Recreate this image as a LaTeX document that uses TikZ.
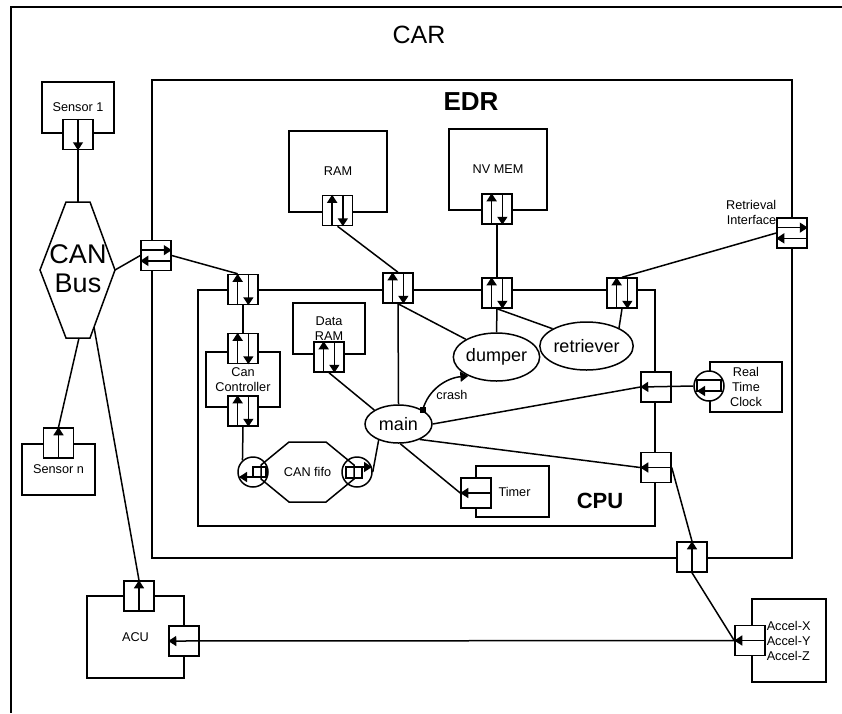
\documentclass[tikz,border=0pt]{standalone}
\usepackage{fontspec}
\setmainfont{Liberation Sans}
\usetikzlibrary{arrows.meta,calc,shapes.geometric}
\newcommand\lblfont{\fontsize{12.7}{15}\selectfont}
\newcommand\pbiV[1]{%
 \draw[tip] ($(#1.south west)!.33!(#1.south east)$) -- ($(#1.north west)!.33!(#1.north east)$);
 \draw[tip] ($(#1.north west)!.67!(#1.north east)$) -- ($(#1.south west)!.67!(#1.south east)$);}
\newcommand\pbiH[1]{%
 \draw[tip] ($(#1.north west)!.33!(#1.south west)$) -- ($(#1.north east)!.33!(#1.south east)$);
 \draw[tip] ($(#1.north east)!.67!(#1.south east)$) -- ($(#1.north west)!.67!(#1.south west)$);}
\newcommand\portIn[3]{\draw[tip] (#1.#2) -- (#1.#3);}
\tikzset{
 blk/.style={draw, fill=white, inner sep=0pt, align=center, font=\lblfont},
 frame/.style={draw, inner sep=0pt},
 port/.style={draw, fill=white, minimum width=30pt, minimum height=30pt, inner sep=0pt},
 tip/.style={-{Triangle[length=8pt,width=10pt]}},
 lbl/.style={font=\lblfont, align=center, inner sep=0pt},
 proc/.style={draw, ellipse, fill=white, inner sep=0pt},
 glyph/.style={draw, circle, minimum size=30pt, inner sep=0pt},
}
\begin{document}
\begin{tikzpicture}[x=1pt,y=-1pt,line width=1.5pt]
\useasboundingbox (0,0) rectangle (842,713);
% CAR frame (clipped on the right and bottom)
\coordinate (carTL) at (11,7);
\coordinate (carTR) at (842,7);
\coordinate (carBL) at (11,713);
\draw (carTR) -- (carTL) -- (carBL);
\node[inner sep=0pt, font=\fontsize{25}{28}\selectfont] (carlbl) at (419,35) {CAR};
% EDR and CPU frames
\node[frame, minimum width=640pt, minimum height=478pt] (edr) at (472,319) {};
\node[inner sep=0pt, font=\fontsize{26}{30}\selectfont\bfseries] (edrlbl) at (471,102) {EDR};
\node[frame, minimum width=457pt, minimum height=236pt] (cpu) at (426.5,408) {};
\node[inner sep=0pt, font=\fontsize{22}{26}\selectfont\bfseries] (cpulbl) at (600,501) {CPU};
% blocks
\node[blk, minimum width=72pt, minimum height=51pt] (s1) at (78,107.5) {Sensor 1};
\node[blk, minimum width=73pt, minimum height=51pt] (sn) at (58.5,469.5) {Sensor n};
\node[blk, minimum width=97pt, minimum height=82pt] (acu) at (135.5,637) {ACU};
\node[blk, minimum width=74pt, minimum height=83pt] (acc) at (789,640.5) {};
\node[lbl, anchor=west, align=left] (acclbl) at (766,641) {Accel-X\\Accel-Y\\Accel-Z};
\node[blk, minimum width=98pt, minimum height=81pt] (ram) at (338,171.5) {RAM};
\node[blk, minimum width=98pt, minimum height=81pt] (nv) at (498,169.5) {NV MEM};
\node[blk, minimum width=74pt, minimum height=55pt] (cc) at (243,379.5) {Can\\Controller};
\node[blk, minimum width=72pt, minimum height=51pt] (dram) at (329,328.5) {Data\\RAM};
\node[blk, minimum width=73pt, minimum height=51pt] (tim) at (512.5,491.5) {\hspace*{4pt}Timer};
\node[blk, minimum width=72pt, minimum height=50pt] (rtc) at (746,387) {Real\\Time\\Clock};
\node[lbl, anchor=east, align=right] (retlbl) at (777,212.5) {Retrieval\\Interface};
% CAN bus hexagon
\coordinate (hA) at (66,202);
\coordinate (hB) at (90,202);
\coordinate (hC) at (115,270);
\coordinate (hD) at (90,338);
\coordinate (hE) at (66,338);
\coordinate (hF) at (40,270);
\draw[fill=white] (hA) -- (hB) -- (hC) -- (hD) -- (hE) -- (hF) -- cycle;
\node[inner sep=0pt, align=center, font=\fontsize{27}{29}\selectfont] (buslbl) at (78,269) {CAN\\Bus};
\coordinate (hTop) at (78,202);
\coordinate (hSn) at (79,338);
\coordinate (hAcu) at (94,327);
% CAN fifo octagon
\coordinate (o1) at (289,442);
\coordinate (o2) at (326,442);
\coordinate (o3) at (354,465);
\coordinate (o4) at (354,479);
\coordinate (o5) at (326,502);
\coordinate (o6) at (289,502);
\coordinate (o7) at (261,479);
\coordinate (o8) at (261,465);
\draw (o1) -- (o2) -- (o3) -- (o4) -- (o5) -- (o6) -- (o7) -- (o8) -- cycle;
\node[lbl] (fifolbl) at (307.5,472) {CAN fifo};
\node[glyph] (fifoL) at (253,472) {};
\node[glyph] (fifoR) at (357,472) {};
\draw (253,467) rectangle (266,477);
\draw[tip] (266,477) -- (239,477);
\draw (346,467) rectangle (362,478);
\draw[tip] (346,467) -- (372,467);
% processes
\node[proc, minimum width=67pt, minimum height=38pt, font=\fontsize{18}{20}\selectfont] (main) at (398.5,424) {main};
\node[proc, minimum width=81pt, minimum height=48pt, font=\fontsize{18}{20}\selectfont] (dump) at (496.5,357) {dumper};
\node[proc, minimum width=81pt, minimum height=48pt, font=\fontsize{18}{20}\selectfont] (retr) at (586.5,346) {retriever};
% RTC glyph
\node[glyph, fill=white] (rtcC) at (709,386) {};
\draw (697,380) rectangle (721,391);
\draw[tip] (721,391) -- (697,391);
% ports
\node[port] (s1P) at (78,134.5) {};
\node[port] (busP) at (156,255.5) {};
\node[port] (cpuP1) at (243,289.5) {};
\node[port] (cpuP2) at (398,288) {};
\node[port] (cpuP3) at (497,293) {};
\node[port] (cpuP4) at (622,293) {};
\node[port] (ramP) at (337.5,210.5) {};
\node[port] (nvP) at (497,209) {};
\node[port] (retP) at (792,233) {};
\node[port] (ccP1) at (243,348.5) {};
\node[port] (ccP2) at (243,411) {};
\node[port] (dramP) at (329,357) {};
\node[port] (rtcP) at (656,387) {};
\node[port] (accP) at (656,467.5) {};
\node[port] (edrP) at (692,557) {};
\node[port] (timP) at (476,493) {};
\node[port] (acP) at (750,640.5) {};
\node[port] (acuP) at (184,641) {};
\node[port] (acuTP) at (139,596) {};
\node[port] (snP) at (58.5,443) {};
\portIn{s1P}{north}{south}
\pbiH{busP}
\pbiV{cpuP1}
\pbiV{cpuP2}
\pbiV{cpuP3}
\pbiV{cpuP4}
\pbiV{ramP}
\pbiV{nvP}
\pbiH{retP}
\pbiV{ccP1}
\pbiV{ccP2}
\pbiV{dramP}
\portIn{accP}{east}{west}
\portIn{edrP}{south}{north}
\portIn{timP}{east}{west}
\portIn{acP}{east}{west}
\portIn{acuTP}{south}{north}
\portIn{snP}{south}{north}
% connectors
\draw (s1P.south) -- (hTop);
\draw (hC) -- (busP.west);
\draw (busP.east) -- ($(cpuP1.north west)!.33!(cpuP1.north east)$);
\draw (hSn) -- (snP.north);
\draw (hAcu) -- (acuTP.north);
\draw (ramP.south) -- (cpuP2.north);
\draw (nvP.south) -- (cpuP3.north);
\draw (retP.west) -- (cpuP4.north);
\draw (cpuP1.south) -- (ccP1.north);
\draw (ccP2.south) -- (fifoL.132);
\draw (cpuP2.south) -- (main.north);
\draw (cpuP2.south) -- (dump.150);
\draw (cpuP3.south) -- (dump.north);
\draw (cpuP3.south) -- (retr.153);
\draw (cpuP4.south) -- (retr.29);
\draw (dramP.south) -- (main.150);
\draw (main.east) -- (rtcP.west);
\draw[tip] (rtcC.west) -- (rtcP.west);
\draw (main.-36) -- (accP.west);
\draw (main.-85) -- (timP.west);
\draw (main.-141) -- (fifoR.east);
\draw (accP.east) -- (edrP.north);
\draw (edrP.south) -- (acP.west);
\draw[tip] (acP.west) -- (acuP.west);
% crash event
\node[fill, minimum size=6pt, inner sep=0pt] (crashsq) at (main.30) {};
\draw[tip] (crashsq.center) .. controls (428,390) and (446,378) .. (dump.214);
\node[lbl] (crashlbl) at (452,395) {crash};
\end{tikzpicture}
\end{document}
